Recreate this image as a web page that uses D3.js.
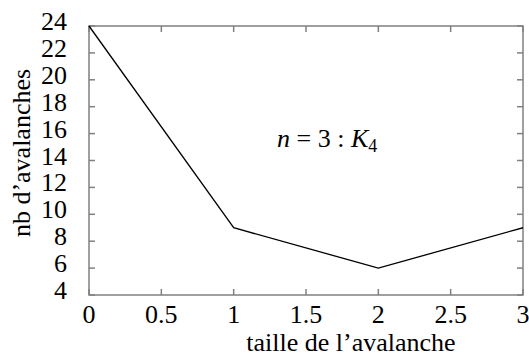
<!DOCTYPE html>
<html>
<head>
<meta charset="utf-8">
<script src="https://cdn.jsdelivr.net/npm/d3@7"></script>
<style>
  body { margin: 0; background: #fff; }
</style>
</head>
<body>
<div id="chart"></div>
<script>
var sizes = [0, 1, 2, 3];
var counts = [24, 9, 6, 9];
var xTicks = [0, 0.5, 1, 1.5, 2, 2.5, 3];
var yTicks = [4, 6, 8, 10, 12, 14, 16, 18, 20, 22, 24];
var xTitle = "taille de l\u2019avalanche";
var yTitle = "nb d\u2019avalanches";

var width = 529,
  height = 358,
  margin = {left: 89, right: 6, top: 26, bottom: 63},
  frameColor = "#808080",
  serif = "'Liberation Serif', 'Times New Roman', Times, serif",
  tickLen = 6,
  fontSize = 26;

var svg = d3.select("#chart").append("svg")
  .attr("width", width)
  .attr("height", height)
  .attr("font-family", serif);

var x = d3.scaleLinear()
  .domain([0, 3])
  .range([margin.left, width - margin.right]);

var y = d3.scaleLinear()
  .domain([4, 24])
  .range([height - margin.bottom, margin.top]);

var x0 = x.range()[0], x1 = x.range()[1],
  y0 = y.range()[0], y1 = y.range()[1];

// ticks, mirrored on every side like gnuplot
var g = svg.append("g");
xTicks.forEach(function(t) {
  g.append("line").attr("x1", x(t)).attr("x2", x(t))
    .attr("y1", y0).attr("y2", y0 - tickLen);
  g.append("line").attr("x1", x(t)).attr("x2", x(t))
    .attr("y1", y1).attr("y2", y1 + tickLen);
});
yTicks.forEach(function(t) {
  g.append("line").attr("x1", x0).attr("x2", x0 + tickLen)
    .attr("y1", y(t)).attr("y2", y(t));
  g.append("line").attr("x1", x1).attr("x2", x1 - tickLen)
    .attr("y1", y(t)).attr("y2", y(t));
});
g.selectAll("line")
  .attr("stroke", frameColor)
  .attr("stroke-width", 1.5);

svg.append("rect")
  .attr("x", x0).attr("y", y1)
  .attr("width", x1 - x0).attr("height", y0 - y1)
  .attr("fill", "none")
  .attr("stroke", frameColor)
  .attr("stroke-width", 1.5);

// tick labels
svg.selectAll(".xlab")
  .data(xTicks)
  .enter().append("text")
  .attr("class", "xlab")
  .attr("x", function(d) { return x(d); })
  .attr("y", y0 + 28)
  .attr("text-anchor", "middle")
  .attr("font-size", fontSize)
  .text(function(d) { return d; });

svg.selectAll(".ylab")
  .data(yTicks)
  .enter().append("text")
  .attr("class", "ylab")
  .attr("x", x0 - 22)
  .attr("y", function(d) { return y(d) + 4; })
  .attr("text-anchor", "end")
  .attr("font-size", fontSize)
  .text(function(d) { return d; });

// axis titles
svg.append("text")
  .attr("x", 351)
  .attr("y", 351)
  .attr("text-anchor", "middle")
  .attr("font-size", fontSize)
  .text(xTitle);

svg.append("text")
  .attr("transform", "translate(30,153) rotate(-90)")
  .attr("text-anchor", "middle")
  .attr("font-size", fontSize)
  .text(yTitle);

// the curve
var line = d3.line()
  .x(function(d, i) { return x(sizes[i]); })
  .y(function(d) { return y(d); });

svg.append("path")
  .datum(counts)
  .attr("d", line)
  .attr("fill", "none")
  .attr("stroke", "#000")
  .attr("stroke-width", 1.3);

// annotation n = 3 : K4
var note = svg.append("text")
  .attr("x", 277)
  .attr("y", 147)
  .attr("font-size", fontSize);
note.append("tspan").attr("font-style", "italic").text("n");
note.append("tspan").text(" = 3 : ");
note.append("tspan").attr("font-style", "italic").text("K");
note.append("tspan").attr("dy", 5).attr("font-size", 18).text("4");
</script>
</body>
</html>
